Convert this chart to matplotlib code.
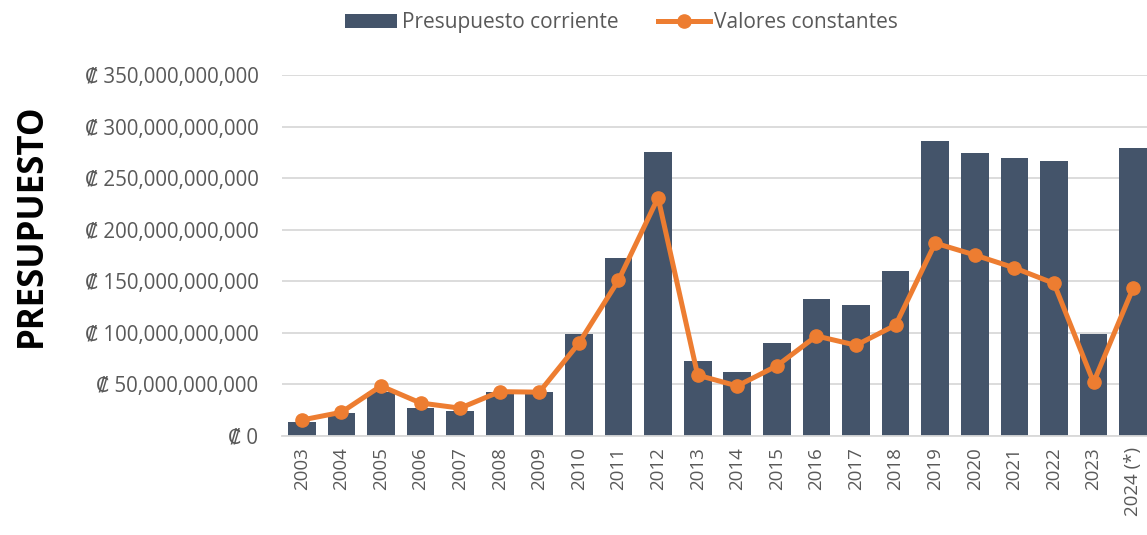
import numpy as np
import matplotlib.pyplot as plt
from matplotlib.ticker import FuncFormatter

plt.rcParams['font.family'] = ['Open Sans', 'DejaVu Sans']

years = ['2003', '2004', '2005', '2006', '2007', '2008', '2009', '2010',
         '2011', '2012', '2013', '2014', '2015', '2016', '2017', '2018',
         '2019', '2020', '2021', '2022', '2023', '2024 (*)']

# budget in billions of colones
corriente = [14, 22, 43, 27, 24, 42.5, 43, 99, 172.5, 275, 72.5, 62, 90,
             133, 127, 160, 286, 274, 270, 267, 99, 279]
constantes = [15.5, 23, 48.5, 32, 27, 43, 42.5, 90, 151, 231, 59, 48.5, 68,
              97, 88, 107.5, 187, 175.5, 163, 148, 52, 143.5]

bar_color = '#44546a'
line_color = '#ed7d31'
text_gray = '#595959'

x = np.arange(len(years))
bars_val = np.array(corriente) * 1e9
line_val = np.array(constantes) * 1e9

fig = plt.figure(figsize=(11.47, 5.35), dpi=100)
ax = fig.add_axes([282 / 1147, 1 - 436 / 535, 1 - 282 / 1147, (436 - 75) / 535])

bars = ax.bar(x, bars_val, width=0.7, color=bar_color, zorder=2)
line, = ax.plot(x, line_val, color=line_color, lw=3.6, marker='o',
                markersize=9.5, zorder=3)

ax.set_xlim(-0.5, len(years) - 0.65)
ax.set_ylim(0, 350e9)
ax.set_yticks(np.arange(0, 351e9, 50e9))
ax.yaxis.set_major_formatter(FuncFormatter(lambda v, p: '₡ {:,.0f}'.format(v)))
ax.set_xticks(x)
ax.set_xticklabels(years, rotation=90)

ax.grid(axis='y', color='#d9d9d9', lw=1.3, zorder=0)
for s in ['top', 'right', 'left']:
    ax.spines[s].set_visible(False)
ax.spines['bottom'].set_color('#d9d9d9')
ax.spines['bottom'].set_linewidth(1.3)
ax.tick_params(axis='x', length=0, labelsize=13.5, colors=text_gray, pad=8)
ax.tick_params(axis='y', length=0, labelsize=14.8, colors=text_gray, pad=17)

ax.set_ylabel('PRESUPUESTO', fontsize=25, fontweight='bold', color='black')
ax.yaxis.set_label_coords(-0.268, 0.584)

fig.legend([bars, line], ['Presupuesto corriente', 'Valores constantes'],
           loc='upper center', bbox_to_anchor=(0.542, 1.012), ncol=2,
           frameon=False, fontsize=15, labelcolor=text_gray,
           handlelength=2.5, handletextpad=0.2, columnspacing=1.9)

fig.savefig('out.png', dpi=100)
